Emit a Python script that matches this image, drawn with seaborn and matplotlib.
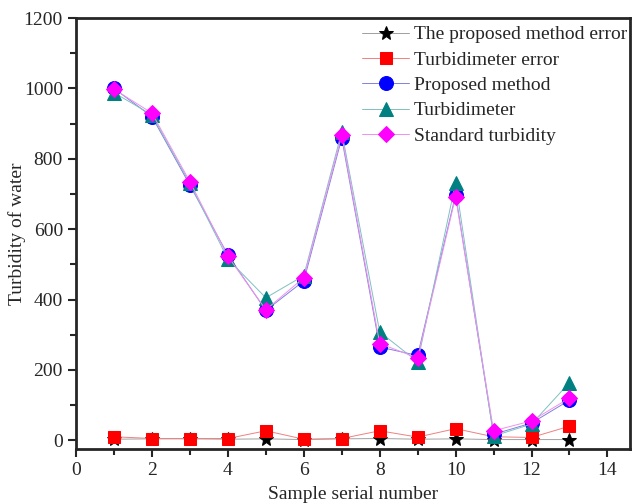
import numpy as np
import seaborn as sns
import matplotlib.pyplot as plt
from matplotlib.ticker import MultipleLocator

samples = np.arange(1, 14)
proposed_error = [3, 4, 4, 3, 4, 2, 4, 5, 3, 4, 2, 2, 2]
turbidimeter_error = [10, 5, 5, 5, 27, 3, 5, 27, 9, 33, 10, 8, 40]
proposed = [1000, 920, 725, 527, 369, 453, 859, 265, 241, 698, 17, 49, 114]
turbidimeter = [988, 925, 730, 515, 405, 468, 877, 308, 223, 732, 12, 46, 164]
standard = [998, 930, 735, 523, 371, 462, 867, 275, 234, 692, 27, 55, 120]

sns.set_style('ticks')
plt.rcParams['font.family'] = ['Liberation Serif', 'DejaVu Serif']

fig = plt.figure(figsize=(6.34, 5.04), dpi=100)
ax = fig.add_axes([0.12, 0.109, 0.874, 0.855])

series = [
    (proposed_error, 'The proposed method error', '*', 'black', '#a0a0a0', 10),
    (turbidimeter_error, 'Turbidimeter error', 's', '#ff0000', '#f08080', 9),
    (proposed, 'Proposed method', 'o', '#0000ff', '#8080e0', 10),
    (turbidimeter, 'Turbidimeter', '^', '#008080', '#80c0c0', 9.5),
    (standard, 'Standard turbidity', 'D', '#ff00ff', '#f090f0', 8.5),
]
for vals, name, mk, mcol, lcol, ms in series:
    sns.lineplot(x=samples, y=vals, ax=ax, color=lcol, linewidth=0.7,
                 marker=mk, markersize=ms, markerfacecolor=mcol,
                 markeredgecolor=mcol, label=name)

ax.set_xlim(0, 14.6)
ax.set_ylim(-25, 1200)
ax.set_xticks(range(0, 15, 2))
ax.xaxis.set_minor_locator(MultipleLocator(1))
ax.set_yticks(range(0, 1201, 200))
ax.yaxis.set_minor_locator(MultipleLocator(100))
ax.tick_params(which='major', direction='out', length=6, width=1.5, labelsize=14)
ax.tick_params(which='minor', direction='out', length=4, width=1.5)
ax.tick_params(top=False, right=False, which='both')
for s in ax.spines.values():
    s.set_linewidth(2)
    s.set_visible(True)

ax.set_xlabel('Sample serial number', fontsize=14, labelpad=5)
ax.set_ylabel('Turbidity of water', fontsize=14, labelpad=-2)

leg = ax.legend(loc='upper right', bbox_to_anchor=(1.012, 1.005), frameon=False,
                fontsize=14, handlelength=2.4, handletextpad=0.25,
                labelspacing=0.4, borderaxespad=0.1)

fig.savefig('out.png', dpi=100)
